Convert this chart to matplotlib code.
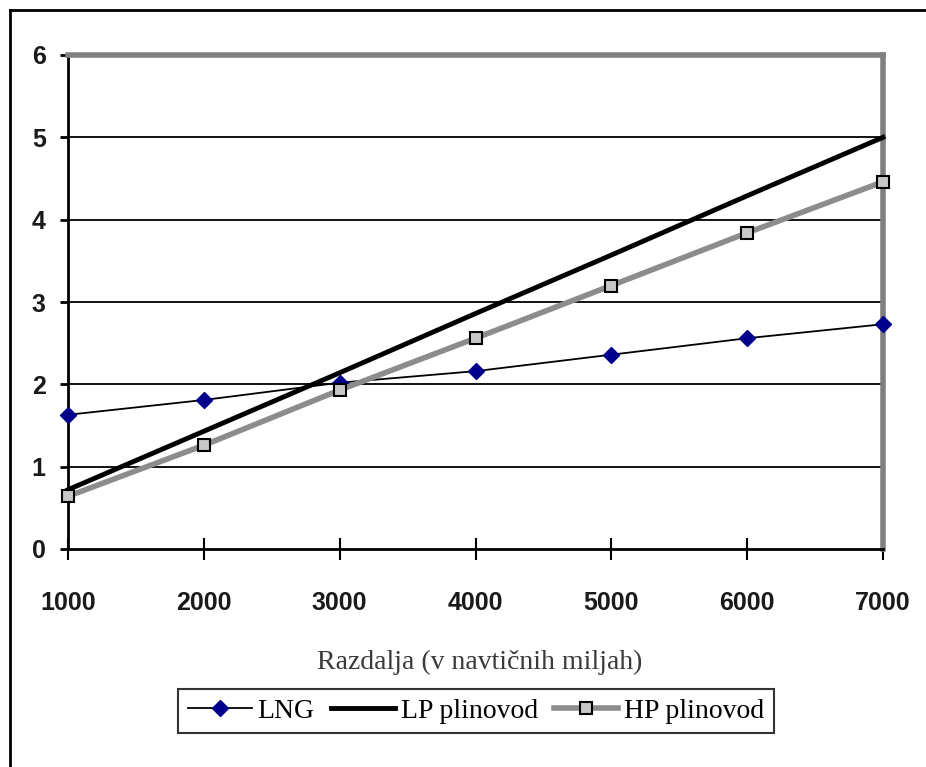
import matplotlib.pyplot as plt
from matplotlib.lines import Line2D
from matplotlib import font_manager

# distance in nautical miles
distance = [1000, 2000, 3000, 4000, 5000, 6000, 7000]
lng = [1.63, 1.81, 2.02, 2.16, 2.36, 2.56, 2.73]
lp_pipeline = [0.72, 1.43, 2.14, 2.86, 3.57, 4.29, 5.00]
hp_pipeline = [0.64, 1.26, 1.93, 2.56, 3.20, 3.84, 4.46]

x_ticks = [1000, 2000, 3000, 4000, 5000, 6000, 7000]
y_ticks = [0, 1, 2, 3, 4, 5, 6]

names = {f.name for f in font_manager.fontManager.ttflist}
tick_font = 'Liberation Sans Narrow' if 'Liberation Sans Narrow' in names else 'Liberation Sans'

W, H = 926, 767
fig = plt.figure(figsize=(W / 100, H / 100), dpi=100)
ax = fig.add_axes([68 / W, 1 - 549 / H, (883 - 68) / W, (549 - 55) / H])

# horizontal grid lines
for y in y_ticks[1:-1]:
    ax.axhline(y, color='black', lw=1.3, zorder=1)

ax.plot(distance, lng, color='black', lw=1.3, marker='D', markersize=8,
        markerfacecolor='#00008b', markeredgecolor='#00008b', zorder=3,
        clip_on=False, label='LNG')
ax.plot(distance, lp_pipeline, color='black', lw=3.5, zorder=4, clip_on=False,
        label='LP plinovod')
ax.plot(distance, hp_pipeline, color='#8c8c8c', lw=4, marker='s', markersize=9,
        markerfacecolor='#c8c8c8', markeredgecolor='black', markeredgewidth=1.5,
        zorder=5, clip_on=False, label='HP plinovod')

ax.set_xlim(1000, 7000)
ax.set_ylim(0, 6)
ax.set_xticks(x_ticks)
ax.set_yticks(y_ticks)

for s in ['left', 'bottom']:
    ax.spines[s].set_color('black')
    ax.spines[s].set_linewidth(2)
for s in ['top', 'right']:
    ax.spines[s].set_color('#808080')
    ax.spines[s].set_linewidth(4)

ax.tick_params(axis='y', direction='out', length=6, width=2, pad=10)
ax.tick_params(axis='x', direction='inout', length=16, width=1.5, pad=22)
for lbl in ax.get_xticklabels() + ax.get_yticklabels():
    lbl.set_fontfamily(tick_font)
    lbl.set_fontweight('bold')
    lbl.set_fontsize(22 if tick_font != 'Liberation Sans' else 18)
    lbl.set_color('#1a1a1a')

fig.text(480 / W, 1 - 662 / H, 'Razdalja (v navtičnih miljah)', ha='center', va='center',
         family='Liberation Serif', fontsize=20, color='#3a3a3a')

leg = fig.legend(loc='center', bbox_to_anchor=(476 / W, 1 - 711 / H), ncol=3,
                 frameon=True, fancybox=False, handlelength=2.3, handletextpad=0.2,
                 columnspacing=0.6, borderpad=0.35,
                 prop={'family': 'Liberation Serif', 'size': 20})
leg.get_frame().set_edgecolor('black')
leg.get_frame().set_linewidth(1.5)

# outer frame (left and top)
fig.add_artist(Line2D([10 / W, 10 / W], [0, 1 - 10 / H], color='black', lw=2,
                      transform=fig.transFigure))
fig.add_artist(Line2D([10 / W, 1], [1 - 10 / H, 1 - 10 / H], color='black', lw=2,
                      transform=fig.transFigure))

fig.savefig('out.png', dpi=100)
